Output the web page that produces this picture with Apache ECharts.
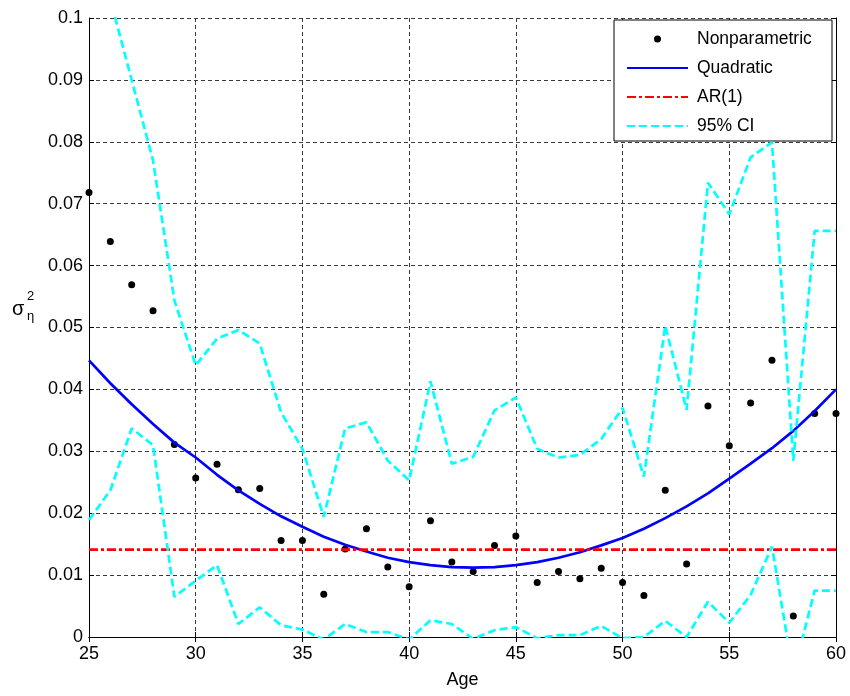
<!DOCTYPE html>
<html>
<head>
<meta charset="utf-8">
<script src="https://cdn.jsdelivr.net/npm/echarts@6/dist/echarts.min.js"></script>
<style>
html,body{margin:0;padding:0;background:#fff;}
#chart{width:850px;height:696px;}
</style>
</head>
<body>
<div id="chart"></div>
<script>
var ages = [25,26,27,28,29,30,31,32,33,34,35,36,37,38,39,40,41,42,43,44,45,46,47,48,49,50,51,52,53,54,55,56,57,58,59,60];
var nonparametric = [0.0718,0.0639,0.0569,0.0527,0.0311,0.0257,0.0279,0.0238,0.0240,0.0156,0.0156,0.0069,0.0142,0.0175,0.0113,0.0081,0.0188,0.0121,0.0106,0.0148,0.0163,0.0088,0.0106,0.0094,0.0111,0.0088,0.0067,0.0237,0.0118,0.0373,0.0309,0.0378,0.0447,0.0034,0.0361,0.0361];
var quadratic = [0.0447,0.0410,0.0376,0.0344,0.0314,0.0290,0.0262,0.0237,0.0215,0.0195,0.0178,0.0162,0.0149,0.0138,0.0128,0.0121,0.0116,0.0113,0.0112,0.0113,0.0116,0.0121,0.0128,0.0137,0.0148,0.0160,0.0175,0.0192,0.0211,0.0232,0.0256,0.0280,0.0305,0.0333,0.0365,0.0400];
var arAges = [25,60];
var ar1 = [0.0141,0.0141];
var ciUpper = [0.125,0.103,0.090,0.077,0.0544,0.0439,0.0482,0.0496,0.0474,0.0363,0.0304,0.0194,0.0337,0.0347,0.0285,0.0253,0.0413,0.0280,0.0291,0.0366,0.0387,0.0304,0.0290,0.0294,0.0320,0.0370,0.0259,0.0503,0.0367,0.0734,0.0683,0.0775,0.0799,0.0285,0.0656,0.0656];
var ciLower = [0.0189,0.0237,0.0337,0.0310,0.0065,0.0091,0.0116,0.0021,0.0048,0.0019,0.0012,-0.0004,0.0021,0.0008,0.0008,-0.0004,0.0027,0.0021,-0.0003,0.0011,0.0016,-0.0002,0.0003,0.0003,0.0018,-0.0002,0.0000,0.0026,0.0000,0.0057,0.0023,0.0068,0.0146,-0.0060,0.0075,0.0075];

function pairs(xs, ys){ return xs.map(function(x,i){ return [x, ys[i]]; }); }

var FONT = 'Liberation Sans, Arial, sans-serif';
var gridLine = {show:true, lineStyle:{color:'#3a3a3a', type:[4,3], width:1}};

var chart = echarts.init(document.getElementById('chart'), null, {renderer:'canvas'});
chart.setOption({
  animation:false,
  backgroundColor:'#fff',
  grid:{left:89, right:14, top:18, bottom:59, containLabel:false},
  xAxis:[{
    type:'value', min:25, max:60, interval:5, position:'bottom',
    name:'Age', nameLocation:'middle', nameGap:34,
    nameTextStyle:{fontFamily:FONT, fontSize:18, color:'#000'},
    axisLine:{show:true, lineStyle:{color:'#000', width:1}},
    axisTick:{show:true, inside:true, length:5, lineStyle:{color:'#000'}},
    axisLabel:{fontFamily:FONT, fontSize:18, color:'#000', margin:8},
    splitLine:gridLine
  },{
    type:'value', min:25, max:60, interval:5, position:'top',
    axisLine:{show:true, lineStyle:{color:'#000', width:1}},
    axisTick:{show:true, inside:true, length:5, lineStyle:{color:'#000'}},
    axisLabel:{show:false}, splitLine:{show:false}
  }],
  yAxis:[{
    type:'value', min:0, max:0.1, interval:0.01, position:'left',
    axisLine:{show:true, lineStyle:{color:'#000', width:1}},
    axisTick:{show:true, inside:true, length:5, lineStyle:{color:'#000'}},
    axisLabel:{fontFamily:FONT, fontSize:18, color:'#000', margin:6},
    splitLine:gridLine
  },{
    type:'value', min:0, max:0.1, interval:0.01, position:'right',
    axisLine:{show:true, lineStyle:{color:'#000', width:1}},
    axisTick:{show:true, inside:true, length:5, lineStyle:{color:'#000'}},
    axisLabel:{show:false}, splitLine:{show:false}
  }],
  legend:{
    show:true, orient:'vertical', right:18, top:20,
    data:[
      {name:'Nonparametric'},
      {name:'Quadratic', itemStyle:{opacity:0}},
      {name:'AR(1)', itemStyle:{opacity:0}},
      {name:'95% CI', itemStyle:{opacity:0}}
    ],
    backgroundColor:'#fff', borderColor:'#000', borderWidth:1, borderRadius:0,
    padding:[9,10,5,12],
    itemWidth:61, itemHeight:7, itemGap:9,
    textStyle:{fontFamily:FONT, fontSize:17.5, color:'#000', lineHeight:20, width:125, padding:[0,0,0,4]},
    selectedMode:false
  },
  graphic:[
    {type:'text', left:12, top:299, style:{text:'σ', font:'20px ' + FONT, fill:'#000'}},
    {type:'text', left:27, top:310, style:{text:'η', font:'13px ' + FONT, fill:'#000'}},
    {type:'text', left:27, top:290, style:{text:'2', font:'13px ' + FONT, fill:'#000'}}
  ],
  series:[
    {name:'Nonparametric', type:'scatter', data:pairs(ages, nonparametric), symbol:'circle', symbolSize:7,
     itemStyle:{color:'#000', opacity:1}, z:2},
    {name:'Quadratic', type:'line', data:pairs(ages, quadratic), symbol:'none', smooth:false,
     lineStyle:{color:'#0000ff', width:2.7}, itemStyle:{color:'#0000ff'}, z:3},
    {name:'AR(1)', type:'line', data:pairs(arAges, ar1), symbol:'none',
     lineStyle:{color:'#ff0000', width:2.7, type:[9,3,3,3]}, itemStyle:{color:'#ff0000'}, z:4},
    {name:'95% CI', type:'line', data:pairs(ages, ciUpper), symbol:'none', clip:true,
     lineStyle:{color:'#00ffff', width:2.7, type:[8,4]}, itemStyle:{color:'#00ffff'}, z:5},
    {name:'95% CI', type:'line', data:pairs(ages, ciLower), symbol:'none', clip:true,
     lineStyle:{color:'#00ffff', width:2.7, type:[8,4]}, itemStyle:{color:'#00ffff'}, z:5}
  ]
});
</script>
</body>
</html>
